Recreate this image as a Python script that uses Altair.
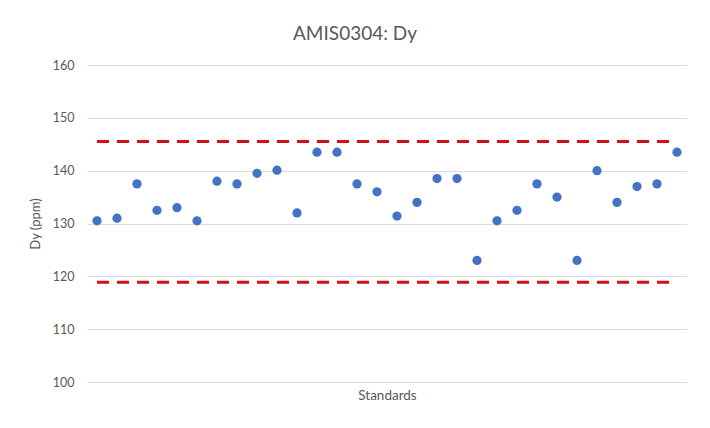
import altair as alt
import pandas as pd

standard_index = list(range(1, 31))
dy_values = [130.5, 131.0, 137.5, 132.5, 133.0, 130.5, 138.0, 137.5, 139.5, 140.1,
             132.0, 143.5, 143.5, 137.5, 136.0, 131.4, 134.0, 138.5, 138.5, 123.0,
             130.5, 132.5, 137.5, 135.0, 123.0, 140.0, 134.0, 137.0, 137.5, 143.5]
limit_values = [145.5, 118.9]
limit_names = ["Upper", "Lower"]

pts = pd.DataFrame({"idx": standard_index, "dy": dy_values})
lim = pd.DataFrame({"name": limit_names, "y": limit_values,
                    "x1": [standard_index[0]] * 2, "x2": [standard_index[-1]] * 2})

FONT = "Lato"
GREY = "#595959"

xscale = alt.Scale(domain=[0.5, 30.5], nice=False, zero=False)
yscale = alt.Scale(domain=[100, 160], nice=False, zero=False)

xaxis = alt.Axis(title="Standards", labels=False, ticks=False, domain=False,
                 grid=False, titleFont=FONT, titleFontSize=13.5,
                 titleFontWeight="normal", titleColor=GREY, titlePadding=6)
yaxis = alt.Axis(title="Dy (ppm)", values=[100, 110, 120, 130, 140, 150, 160],
                 ticks=False, domain=False, gridColor="#DCDCDC", gridWidth=1,
                 labelFont=FONT, labelFontSize=12.5, labelColor=GREY,
                 labelPadding=13, titleFont=FONT, titleFontSize=13,
                 titleFontWeight="normal", titleColor=GREY, titlePadding=10)

points = alt.Chart(pts).mark_circle(size=85, color="#4472C4", opacity=1).encode(
    x=alt.X("idx:Q", scale=xscale, axis=xaxis),
    y=alt.Y("dy:Q", scale=yscale, axis=yaxis),
)

rules = alt.Chart(lim).mark_rule(color="#D0101A", strokeWidth=3, strokeDash=[12, 8]).encode(
    x=alt.X("x1:Q", scale=xscale, axis=xaxis),
    x2="x2:Q",
    y=alt.Y("y:Q", scale=yscale, axis=yaxis),
)

chart = alt.layer(points, rules).properties(
    width=600, height=317,
    background="white",
    title=alt.TitleParams("AMIS0304: Dy", font=FONT, fontSize=19, fontWeight="normal",
                          color=GREY, anchor="middle", dx=-32, offset=15),
    autosize=alt.AutoSizeParams(type="none"),
    padding={"left": 79, "top": 57, "right": 10, "bottom": 30},
).configure_view(strokeWidth=0, stroke="transparent").configure_axisX(grid=False)

chart.save("out.html", embed_options={"renderer": "svg", "actions": False})
